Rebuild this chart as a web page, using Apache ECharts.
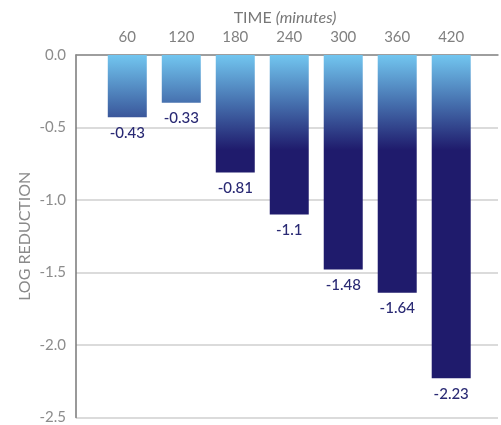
<!DOCTYPE html>
<html>
<head>
<meta charset="utf-8">
<script src="https://cdn.jsdelivr.net/npm/echarts@6/dist/echarts.min.js"></script>
<style>html,body{margin:0;padding:0;background:#fff}#c{width:501px;height:425px}</style>
</head>
<body>
<div id="c"></div>
<script>
var times = [60, 120, 180, 240, 300, 360, 420];
var logReduction = [-0.43, -0.33, -0.81, -1.1, -1.48, -1.64, -2.23];
var xTickLabels = [60, 120, 180, 240, 300, 360, 420];
var yTicks = [0, -0.5, -1.0, -1.5, -2.0, -2.5];

var chart = echarts.init(document.getElementById('c'), null, {renderer: 'canvas'});
var data = times.map(function (t, i) { return [t, logReduction[i]]; });

chart.setOption({
  animation: false,
  textStyle: {fontFamily: 'Lato, "Noto Sans", sans-serif'},
  title: {
    text: '{a|TIME }{b|(minutes)}',
    left: 280, top: 5, textAlign: 'center',
    textStyle: {
      fontWeight: 'normal',
      rich: {
        a: {fontSize: 16, color: '#777', fontFamily: 'Lato', fontWeight: 'normal'},
        b: {fontSize: 16, color: '#777', fontStyle: 'italic', fontFamily: 'Lato', fontWeight: 'normal'}
      }
    }
  },
  grid: {left: 76, right: 3, top: 55, bottom: 7, containLabel: false},
  xAxis: {
    type: 'value', position: 'top',
    min: 3, max: 472,
    axisLine: {show: true, lineStyle: {color: '#8a8a8a', width: 1.5}},
    axisTick: {show: false},
    splitLine: {show: false},
    axisLabel: {
      customValues: xTickLabels,
      color: '#808080', fontSize: 15, margin: 10
    }
  },
  yAxis: {
    type: 'value', min: yTicks[yTicks.length - 1], max: yTicks[0], interval: 0.5,
    name: 'LOG REDUCTION', nameLocation: 'middle', nameGap: 43, nameMoveOverlap: false,
    nameTextStyle: {color: '#8a8a8a', fontSize: 16},
    axisLine: {show: true, lineStyle: {color: '#777', width: 1.5}},
    axisTick: {show: false},
    splitLine: {show: true, lineStyle: {color: '#cfcfcf', width: 1.5}},
    axisLabel: {
      color: '#8c8c8c', fontSize: 15, margin: 10,
      formatter: function (v) { return v.toFixed(1); }
    }
  },
  series: [{
    type: 'bar',
    data: data,
    barWidth: 39,
    itemStyle: {
      color: new echarts.graphic.LinearGradient(0, 56, 0, 150, [
        {offset: 0, color: '#71c4ee'},
        {offset: 0.5, color: '#4670ae'},
        {offset: 1, color: '#1f1b6c'}
      ], true)
    },
    label: {
      show: true, position: 'bottom', distance: 8,
      color: '#2a2a74', fontSize: 15, fontWeight: 500,
      formatter: function (p) { return String(p.value[1]); }
    }
  }]
});
</script>
</body>
</html>
